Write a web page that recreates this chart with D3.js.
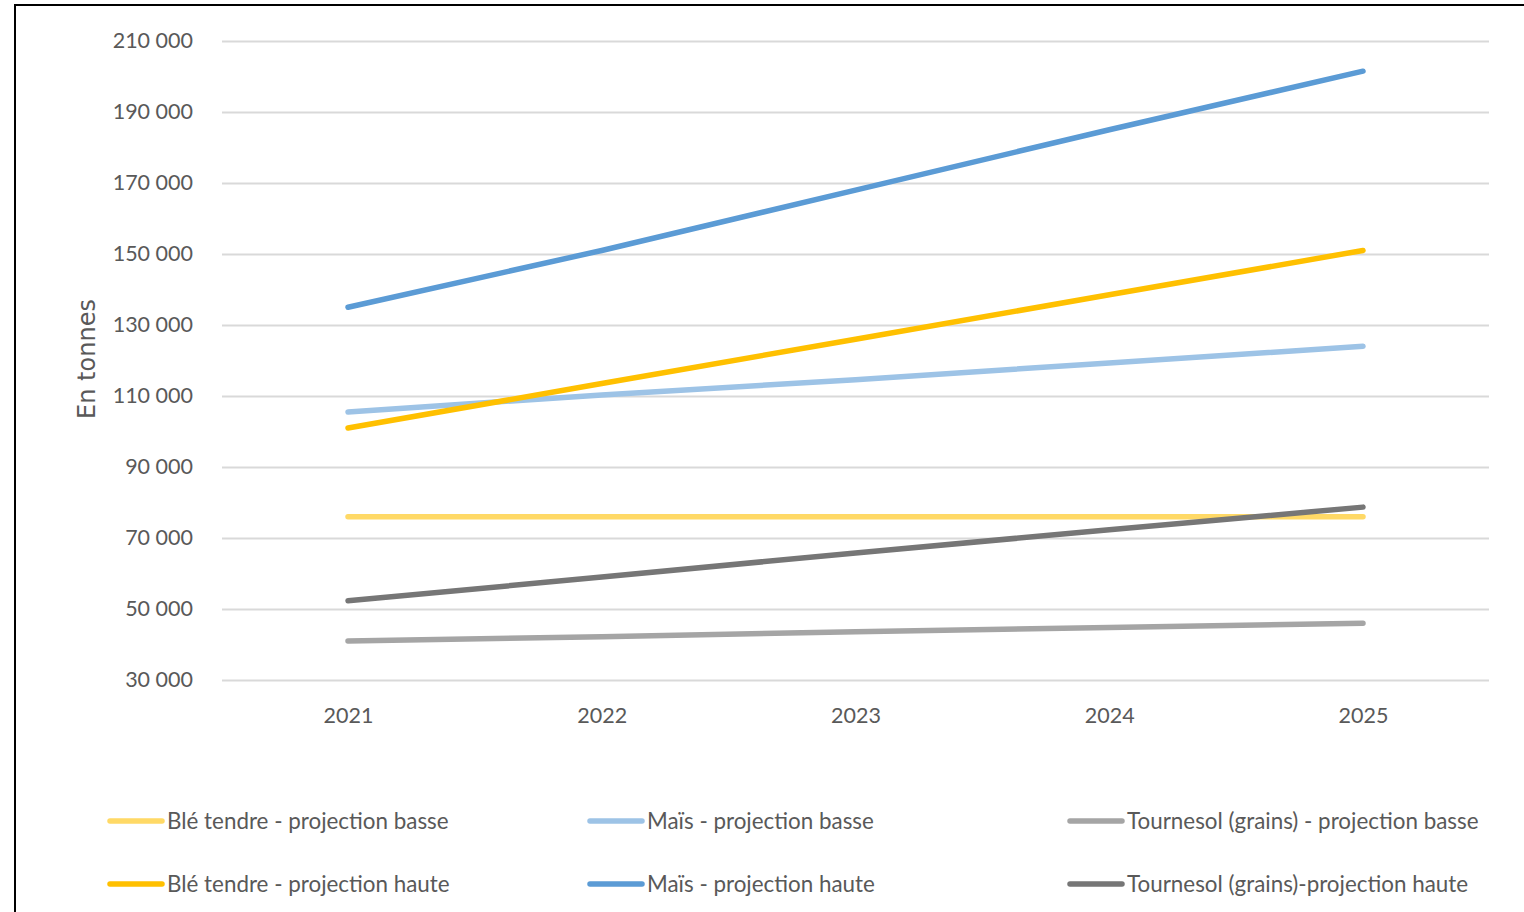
<!DOCTYPE html>
<html>
<head>
<meta charset="utf-8">
<script src="https://cdn.jsdelivr.net/npm/d3@7"></script>
<style>
  body { margin: 0; background: #fff; }
  svg { display: block; }
  text { font-family: Lato, "Open Sans", sans-serif; fill: #595959; }
</style>
</head>
<body>
<svg id="chart" width="1524" height="912"></svg>
<script>
// years on the x axis
const years = [2021, 2022, 2023, 2024, 2025];

// series values (tonnes)
const bleBasse = [76000, 76000, 76000, 76000, 76000];
const maisBasse = [105500, 110300, 114600, 119300, 124000];
const tournesolBasse = [41000, 42200, 43600, 44800, 46000];
const bleHaute = [101000, 113500, 126000, 138500, 151000];
const maisHaute = [135000, 151000, 168000, 185000, 201500];
const tournesolHaute = [52300, 59000, 65800, 72300, 78700];

// y ticks
const yTicks = [30000, 50000, 70000, 90000, 110000, 130000, 150000, 170000, 190000, 210000];

const seriesNames = [
  'Blé tendre - projection basse',
  'Maïs - projection basse',
  'Tournesol (grains) - projection basse',
  'Blé tendre - projection haute',
  'Maïs - projection haute',
  'Tournesol (grains)-projection haute'
];
const seriesColors = ['#ffd966', '#9dc3e6', '#a5a5a5', '#ffc000', '#5b9bd5', '#767676'];
const seriesValues = [bleBasse, maisBasse, tournesolBasse, bleHaute, maisHaute, tournesolHaute];

const series = seriesNames.map((name, i) => ({
  name: name,
  color: seriesColors[i],
  values: seriesValues[i]
}));

const svg = d3.select('#chart');

// outer frame
svg.append('rect')
  .attr('x', 15).attr('y', 5)
  .attr('width', 1530).attr('height', 920)
  .attr('fill', 'none')
  .attr('stroke', '#000')
  .attr('stroke-width', 2);

const plotLeft = 222, plotRight = 1489;
const x = d3.scalePoint()
  .domain(years)
  .range([348, 1363]);
const y = d3.scaleLinear()
  .domain([30000, 210000])
  .range([680, 41]);

const fmt = d => d3.format(',')(d).replace(/,/g, ' ');

// gridlines + y labels
const yAxis = d3.axisLeft(y)
  .tickValues(yTicks)
  .tickSize(-(plotRight - plotLeft))
  .tickPadding(29)
  .tickFormat(fmt);

const gy = svg.append('g')
  .attr('transform', `translate(${plotLeft},0)`)
  .call(yAxis);
gy.select('.domain').remove();
gy.selectAll('.tick line')
  .attr('stroke', '#d9d9d9')
  .attr('stroke-width', 2);
gy.selectAll('.tick text')
  .attr('font-size', 21.5)
  .attr('fill', '#595959')
  .style('font-family', 'Lato, sans-serif');

// x labels
const xAxis = d3.axisBottom(x)
  .tickSize(0)
  .tickPadding(28)
  .tickFormat(d3.format('d'));
const gx = svg.append('g')
  .attr('transform', 'translate(0,680)')
  .call(xAxis);
gx.select('.domain').remove();
gx.selectAll('.tick text')
  .attr('font-size', 21.5)
  .attr('fill', '#595959')
  .style('font-family', 'Lato, sans-serif');

// axis title
svg.append('text')
  .attr('transform', 'translate(95,359) rotate(-90)')
  .attr('text-anchor', 'middle')
  .attr('font-size', 24)
  .style('font-family', '"DejaVu Sans", sans-serif')
  .text('En tonnes');

// lines
const line = d3.line()
  .x((d, i) => x(years[i]))
  .y(d => y(d));

svg.append('g')
  .selectAll('path')
  .data(series)
  .enter()
  .append('path')
  .attr('d', d => line(d.values))
  .attr('fill', 'none')
  .attr('stroke', d => d.color)
  .attr('stroke-width', 5.5)
  .attr('stroke-linecap', 'round');

// legend
const legendX = [108, 588, 1068];
const legendY = [821, 884];
const legend = svg.append('g')
  .selectAll('g')
  .data(series)
  .enter()
  .append('g')
  .attr('transform', (d, i) => `translate(${legendX[i % 3]},${legendY[Math.floor(i / 3)]})`);

legend.append('line')
  .attr('x1', 2).attr('x2', 54)
  .attr('y1', 0).attr('y2', 0)
  .attr('stroke', d => d.color)
  .attr('stroke-width', 5.5)
  .attr('stroke-linecap', 'round');

legend.append('text')
  .attr('x', 59)
  .attr('y', 0)
  .attr('dy', '0.35em')
  .attr('font-size', 22.4)
  .text(d => d.name);
</script>
</body>
</html>
